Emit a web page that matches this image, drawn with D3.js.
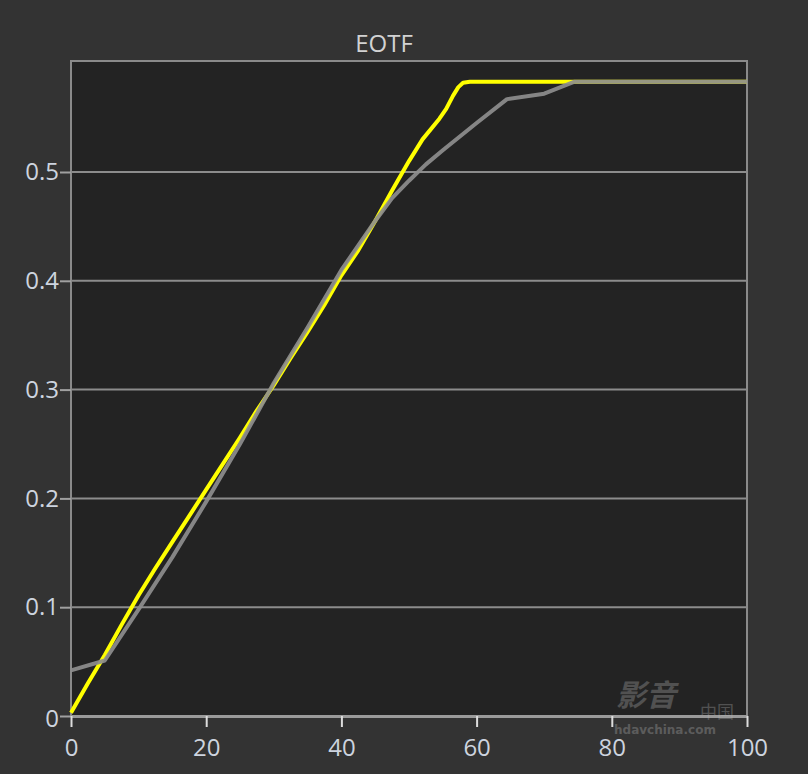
<!DOCTYPE html>
<html><head><meta charset="utf-8">
<script src="https://cdn.jsdelivr.net/npm/d3@7"></script>
<style>
html,body{margin:0;padding:0;background:#333333;}
svg{display:block;}
</style></head>
<body>
<svg id="chart" width="808" height="774"></svg>
<script>
// ---- data ----
const chartTitle = "EOTF";
const xTicks = [0, 20, 40, 60, 80, 100];
const yTicks = [0, 0.1, 0.2, 0.3, 0.4, 0.5];
const yellowX = [0, 2.5, 5, 7.5, 10, 12.5, 15, 17.5, 20, 22.5, 25, 27.5, 30, 32.5, 35, 37.5, 40, 42.5, 45, 47.5, 50, 52, 54.5, 55.5, 56.5, 57.3, 58, 59, 65, 75, 100];
const yellowY = [0.003, 0.030, 0.056, 0.084, 0.111, 0.136, 0.160, 0.184, 0.208, 0.232, 0.256, 0.281, 0.304, 0.329, 0.353, 0.378, 0.405, 0.428, 0.455, 0.483, 0.510, 0.530, 0.549, 0.558, 0.570, 0.578, 0.582, 0.583, 0.583, 0.583, 0.583];
const grayX = [0, 5, 10, 15, 20, 25, 30, 35, 40, 45, 47.5, 50, 52.5, 55, 60, 64.5, 70, 74.5, 100];
const grayY = [0.042, 0.051, 0.098, 0.146, 0.197, 0.250, 0.306, 0.357, 0.410, 0.455, 0.476, 0.492, 0.507, 0.520, 0.545, 0.567, 0.572, 0.583, 0.583];

// ---- layout ----
const svg = d3.select("#chart");
const L = 71, R = 747, T = 61, B = 716;
const x = d3.scaleLinear().domain([0, 100]).range([L, R]);
const y = d3.scaleLinear().domain([0, 0.1]).range([B, B - 108.8]);
const labelColor = "#cdd4df";
const font = "'Open Sans', 'Noto Sans', sans-serif";

// plot background
svg.append("rect").attr("x", L).attr("y", T).attr("width", R - L).attr("height", B - T).attr("fill", "#232323");

// gridlines
svg.append("g").selectAll("line").data(yTicks.filter(d => d > 0)).join("line")
  .attr("x1", L).attr("x2", R).attr("y1", d => y(d)).attr("y2", d => y(d))
  .attr("stroke", "#8c8c8c").attr("stroke-width", 2);

// border (top, right, left)
svg.append("path").attr("d", `M${L},${B} V${T} H${R} V${B}`).attr("fill", "none")
  .attr("stroke", "#8a8a8a").attr("stroke-width", 2);

// y axis
const yAxis = d3.axisLeft(y).tickValues(yTicks).tickSize(11).tickPadding(1)
  .tickFormat(d => d === 0 ? "0" : d3.format(".1f")(d));
const gy = svg.append("g").attr("transform", `translate(${L},0)`).call(yAxis);
gy.select(".domain").remove();
gy.selectAll(".tick line").attr("stroke", "#a0a0a0").attr("stroke-width", 2);
gy.selectAll(".tick text").attr("fill", labelColor).attr("font-family", font).attr("font-size", 24);
gy.selectAll(".tick").filter(d => d === 0).select("text").attr("dy", "0.45em");

// x axis
const xAxis = d3.axisBottom(x).tickValues(xTicks).tickSize(11).tickPadding(12).tickSizeOuter(0);
const gx = svg.append("g").attr("transform", `translate(0,${B})`).call(xAxis);
gx.select(".domain").attr("stroke", "#9a9a9a").attr("stroke-width", 3);
gx.selectAll(".tick line").attr("stroke", "#dddddd").attr("stroke-width", 2);
gx.selectAll(".tick text").attr("fill", labelColor).attr("font-family", font).attr("font-size", 24);

// lines
const line = d3.line().x(d => x(d[0])).y(d => y(d[1])).curve(d3.curveLinear);
const yellowData = yellowX.map((v, i) => [v, yellowY[i]]);
const grayData = grayX.map((v, i) => [v, grayY[i]]);
svg.append("path").datum(yellowData).attr("d", line).attr("fill", "none")
  .attr("stroke", "#ffff00").attr("stroke-width", 4).attr("stroke-linejoin", "round");
svg.append("path").datum(grayData).attr("d", line).attr("fill", "none")
  .attr("stroke", "#8e8e8e").attr("stroke-width", 4).attr("stroke-opacity", 0.92).attr("stroke-linejoin", "round");

// title
svg.append("text").attr("x", 384).attr("y", 52).attr("text-anchor", "middle")
  .attr("fill", "#d2d2d2").attr("font-family", font).attr("font-size", 24).text(chartTitle);

// watermark
const wm = svg.append("g").attr("opacity", 0.3).attr("fill", "#bbbbbb");
wm.append("text").attr("x", 616).attr("y", 706).attr("font-family", "'Noto Sans CJK SC', sans-serif")
  .attr("font-size", 30).attr("font-weight", "bold").attr("font-style", "italic").text("影音");
wm.append("text").attr("x", 700).attr("y", 718).attr("font-family", "'Noto Sans CJK SC', sans-serif")
  .attr("font-size", 17).text("中国");
wm.append("text").attr("x", 614).attr("y", 734).attr("font-family", "'DejaVu Sans', sans-serif")
  .attr("font-size", 12).attr("font-weight", "bold").text("hdavchina.com");
</script>
</body></html>
